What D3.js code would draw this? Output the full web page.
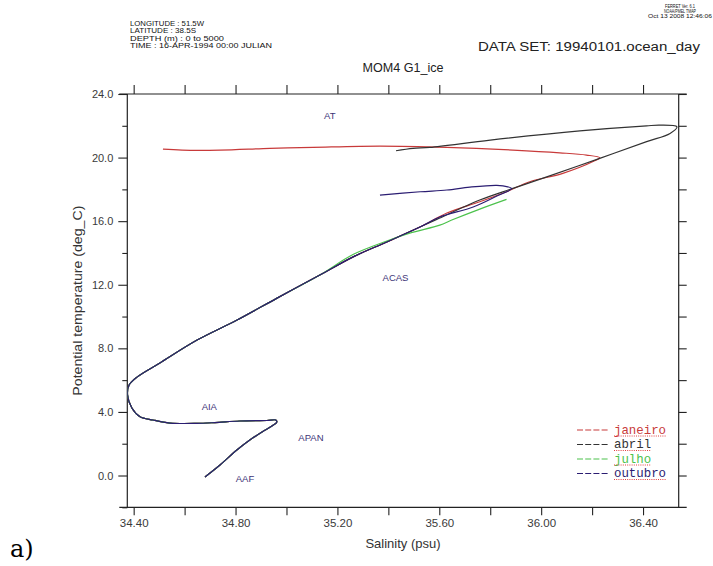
<!DOCTYPE html>
<html><head><meta charset="utf-8">
<script src="https://cdn.jsdelivr.net/npm/d3@7"></script>
<style>
html,body{margin:0;padding:0;background:#fff;}
svg{display:block;}
</style></head>
<body>
<svg id="chart" width="713" height="566"></svg>
<script>
// ---------- data ----------
const months = ["janeiro", "abril", "julho", "outubro"];
const monthColors = ["#c83a3a", "#333333", "#4cc24c", "#2b1d72"];

// shared deep part (identical for all months), from bottom water upwards
const deepSal  = [34.680, 34.739, 34.805, 34.856, 34.904, 34.943, 34.962, 34.958, 34.923, 34.817, 34.719, 34.648, 34.542, 34.476, 34.425, 34.393, 34.376, 34.382, 34.413, 34.503, 34.649, 34.806, 34.963, 35.131];
const deepTemp = [-0.09, 0.66, 1.60, 2.23, 2.74, 3.11, 3.36, 3.49, 3.46, 3.43, 3.33, 3.28, 3.30, 3.49, 3.70, 4.25, 5.06, 5.69, 6.19, 7.08, 8.52, 9.78, 11.16, 12.61];

// upper parts per month
const janSal  = [35.260, 35.394, 35.524, 35.630, 35.759, 35.864, 35.955, 36.085, 36.210, 36.230, 36.178, 36.073, 35.889, 35.630, 35.367, 35.104, 34.935, 34.739, 34.590, 34.515];
const janTemp = [13.74, 14.69, 15.63, 16.51, 17.22, 17.85, 18.48, 19.01, 19.80, 19.99, 20.16, 20.30, 20.47, 20.64, 20.72, 20.64, 20.58, 20.47, 20.47, 20.53];

const abrSal  = [35.260, 35.394, 35.524, 35.590, 35.759, 35.889, 36.022, 36.230, 36.414, 36.506, 36.533, 36.466, 36.414, 36.152, 35.800, 35.563, 35.497, 35.430];
const abrTemp = [13.74, 14.69, 15.63, 16.11, 17.33, 18.06, 18.79, 19.95, 21.00, 21.52, 21.94, 22.04, 22.00, 21.68, 21.10, 20.64, 20.58, 20.43];

const julSal  = [35.261, 35.394, 35.484, 35.602, 35.649, 35.759, 35.864];
const julTemp = [13.90, 14.75, 15.25, 15.75, 16.07, 16.76, 17.37];

const outSal  = [35.260, 35.394, 35.524, 35.602, 35.733, 35.826, 35.884, 35.869, 35.826, 35.720, 35.630, 35.525, 35.367];
const outTemp = [13.74, 14.69, 15.63, 16.26, 16.89, 17.58, 18.05, 18.16, 18.25, 18.14, 17.96, 17.85, 17.64];

const upperSal  = [janSal, abrSal, julSal, outSal];
const upperTemp = [janTemp, abrTemp, julTemp, outTemp];

// water-mass labels
const massNames = ["AT", "ACAS", "AIA", "APAN", "AAF"];
const massSal   = [35.170, 35.428, 34.697, 35.096, 34.837];
const massTemp  = [22.63, 12.42, 4.33, 2.36, -0.17];

// ticks
const xTicks      = [34.4, 34.6, 34.8, 35.0, 35.2, 35.4, 35.6, 35.8, 36.0, 36.2, 36.4];
const xTickLabels = ["34.40", "", "34.80", "", "35.20", "", "35.60", "", "36.00", "", "36.40"];
const yMajorTicks = [0, 4, 8, 12, 16, 20, 24];
const yTickLabels = ["0.0", "4.0", "8.0", "12.0", "16.0", "20.0", "24.0"];
const yMinorTicks = [-2, 2, 6, 10, 14, 18, 22];
const yRightTicks = [0, 2, 4, 6, 8, 10, 12, 14, 16, 18, 20, 22, 24];

const headerLines = ["LONGITUDE : 51.5W", "LATITUDE : 38.5S", "DEPTH (m) : 0 to 5000", "TIME : 16-APR-1994 00:00 JULIAN"];
const ferretLines = ["FERRET Ver. 6.1", "NOAA/PMEL TMAP", "Oct 13 2008 12:46:06"];

// ---------- drawing ----------
const svg = d3.select("#chart");
const L = 127.3, R = 678.7, T = 94, B = 507.3;
const x = d3.scaleLinear().domain([34.375, 36.54]).range([L, R]);
const y = d3.scaleLinear().domain([-2, 24]).range([B, T]);
const sans = "'Liberation Sans', Arial, sans-serif";
const axisCol = "#222";

// frame
const frame = svg.append("g").attr("stroke", axisCol).attr("stroke-width", 1.2).attr("fill", "none");
frame.append("line").attr("x1", L - 8).attr("x2", R + 8).attr("y1", B).attr("y2", B);
frame.append("line").attr("x1", L - 8).attr("x2", R + 8).attr("y1", T).attr("y2", T);
frame.append("line").attr("x1", L).attr("x2", L).attr("y1", T).attr("y2", B);
frame.append("line").attr("x1", R).attr("x2", R).attr("y1", T).attr("y2", B);

function styleAxis(g) {
  g.select(".domain").remove();
  g.selectAll(".tick line").attr("stroke", axisCol).attr("stroke-width", 1.1);
  g.selectAll(".tick text").attr("fill", "#3a3a3a").attr("font-family", sans);
}

// bottom axis
svg.append("g").attr("transform", `translate(0,${B})`)
  .call(d3.axisBottom(x).tickValues(xTicks).tickSize(8).tickPadding(4)
    .tickFormat((d, i) => xTickLabels[i]))
  .call(styleAxis)
  .call(g => g.selectAll(".tick text").attr("font-size", "11.5px"));
// top axis
svg.append("g").attr("transform", `translate(0,${T})`)
  .call(d3.axisTop(x).tickValues(xTicks).tickSize(9).tickFormat(""))
  .call(styleAxis);
// left axis major
svg.append("g").attr("transform", `translate(${L},0)`)
  .call(d3.axisLeft(y).tickValues(yMajorTicks).tickSize(9).tickPadding(5)
    .tickFormat((d, i) => yTickLabels[i]))
  .call(styleAxis)
  .call(g => g.selectAll(".tick text").attr("font-size", "11px"));
// left axis minor
svg.append("g").attr("transform", `translate(${L},0)`)
  .call(d3.axisLeft(y).tickValues(yMinorTicks).tickSize(5).tickFormat(""))
  .call(styleAxis);
// right axis
svg.append("g").attr("transform", `translate(${R},0)`)
  .call(d3.axisRight(y).tickValues(yRightTicks).tickSize(8).tickFormat(""))
  .call(styleAxis);

// axis titles
svg.append("text").attr("x", (L + R) / 2).attr("y", 548).attr("text-anchor", "middle")
  .attr("font-family", sans).attr("font-size", "13px").attr("fill", "#333")
  .text("Salinity (psu)");
svg.append("text").attr("transform", `translate(82,${(T + B) / 2}) rotate(-90)`)
  .attr("text-anchor", "middle").attr("font-family", sans).attr("font-size", "12.5px")
  .attr("fill", "#333").attr("textLength", 190).attr("lengthAdjust", "spacingAndGlyphs")
  .text("Potential temperature (deg_C)");

// titles
svg.append("text").attr("x", 403).attr("y", 72).attr("text-anchor", "middle")
  .attr("font-family", sans).attr("font-size", "12.5px").attr("fill", "#222")
  .attr("textLength", 81).attr("lengthAdjust", "spacingAndGlyphs").text("MOM4 G1_ice");
svg.append("text").attr("x", 478).attr("y", 51)
  .attr("font-family", sans).attr("font-size", "12.5px").attr("fill", "#222")
  .attr("textLength", 222).attr("lengthAdjust", "spacingAndGlyphs").text("DATA SET: 19940101.ocean_day");

const headerWidths = [74, 66, 94, 142];
svg.append("g").selectAll("text").data(headerLines).join("text")
  .attr("x", 130).attr("y", (d, i) => 25.5 + i * 7.6)
  .attr("font-family", sans).attr("font-size", "7.6px").attr("fill", "#111")
  .attr("textLength", (d, i) => headerWidths[i]).attr("lengthAdjust", "spacingAndGlyphs")
  .text(d => d);

const ferretWidths = [30, 32, 64];
svg.append("g").selectAll("text").data(ferretLines).join("text")
  .attr("x", 680).attr("y", (d, i) => 7.5 + i * 5)
  .attr("text-anchor", "middle")
  .attr("font-family", sans).attr("font-size", "5px").attr("fill", "#111")
  .attr("textLength", (d, i) => ferretWidths[i]).attr("lengthAdjust", "spacingAndGlyphs")
  .text(d => d);

// curves
const line = d3.line().x(d => x(d.s)).y(d => y(d.t)).curve(d3.curveCatmullRom.alpha(0.5));
const clipId = "plotclip";
svg.append("clipPath").attr("id", clipId).append("rect")
  .attr("x", L).attr("y", T).attr("width", R - L).attr("height", B - T);
const curves = svg.append("g").attr("clip-path", `url(#${clipId})`);
months.forEach((m, k) => {
  const pts = deepSal.map((s, i) => ({ s, t: deepTemp[i] }))
    .concat(upperSal[k].map((s, i) => ({ s, t: upperTemp[k][i] })));
  curves.append("path").datum(pts)
    .attr("d", line).attr("fill", "none")
    .attr("stroke", monthColors[k]).attr("stroke-width", 1.2)
    .attr("stroke-linejoin", "round");
});

// water-mass labels
svg.append("g").selectAll("text").data(massNames).join("text")
  .attr("x", (d, i) => x(massSal[i])).attr("y", (d, i) => y(massTemp[i]))
  .attr("dy", "0.35em").attr("text-anchor", "middle")
  .attr("font-family", sans).attr("font-size", "9.5px").attr("fill", "#3d3477")
  .text(d => d);

// legend
const legend = svg.append("g");
const legBase = [433.5, 448, 462.5, 477];
months.forEach((m, k) => {
  const by = legBase[k];
  legend.append("line").attr("x1", 577).attr("x2", 609).attr("y1", by - 3.5).attr("y2", by - 3.5)
    .attr("stroke", monthColors[k]).attr("stroke-width", 1.2).attr("stroke-dasharray", "6,2.2");
  const t = legend.append("text").attr("x", 614).attr("y", by)
    .attr("font-family", "'Liberation Mono', 'DejaVu Sans Mono', monospace")
    .attr("font-size", "12.4px").attr("fill", monthColors[k]).text(m);
  const w = t.node().getComputedTextLength();
  legend.append("line").attr("x1", 614).attr("x2", 614 + w).attr("y1", by + 2.5).attr("y2", by + 2.5)
    .attr("stroke", "#e04040").attr("stroke-width", 1).attr("stroke-dasharray", "1,1.2");
});

// panel label
svg.append("text").attr("x", 10).attr("y", 557)
  .attr("font-family", "'DejaVu Serif', 'Liberation Serif', serif").attr("font-size", "24px")
  .attr("fill", "#000").text("a)");
</script>
</body></html>
